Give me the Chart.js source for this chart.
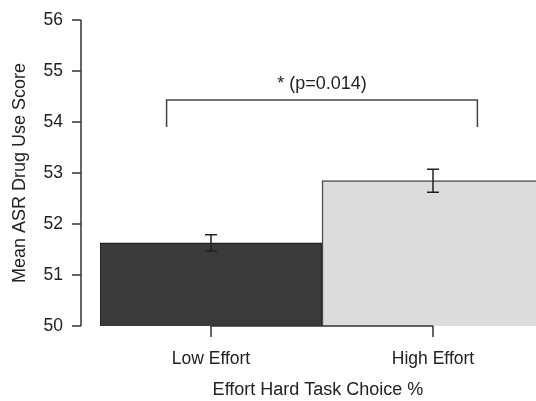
<!DOCTYPE html>
<html>
<head>
<meta charset="utf-8">
<script src="https://cdn.jsdelivr.net/npm/chart.js@4/dist/chart.umd.min.js"></script>
<style>
  html, body { margin: 0; padding: 0; background: #fff; overflow: hidden; }
</style>
</head>
<body>
<canvas id="chart-effort" width="536" height="401"></canvas>
<script>
// data
const groups = ["Low Effort", "High Effort"];
const groupPos = [1, 2];
const means = [51.63, 52.85];
const errors = [0.16, 0.225];
const yTicks = [50, 51, 52, 53, 54, 55, 56];
const pLabel = "* (p=0.014)";
// significance bracket, in data units
const bracketTop = 54.43;
const bracketFoot = 53.9;
const bracketFrom = 0.8;
const bracketTo = 2.2;

Chart.defaults.font.family = '"Liberation Sans", Arial, sans-serif';
Chart.defaults.color = '#222';

const overlay = {
  id: 'overlay',
  afterDatasetsDraw(chart) {
    const { ctx, chartArea, scales: { x, y } } = chart;
    ctx.save();
    ctx.strokeStyle = '#333';
    ctx.lineWidth = 1.5;

    // y axis line + ticks (offset from the plot like base R)
    const ax = chartArea.left - 19;
    ctx.beginPath();
    ctx.moveTo(ax, y.getPixelForValue(yTicks[0]));
    ctx.lineTo(ax, y.getPixelForValue(yTicks[yTicks.length - 1]));
    yTicks.forEach(v => {
      const py = y.getPixelForValue(v);
      ctx.moveTo(ax, py);
      ctx.lineTo(ax - 9, py);
    });
    ctx.stroke();

    // x axis line from first to last group + ticks
    const by = y.getPixelForValue(yTicks[0]);
    ctx.beginPath();
    ctx.moveTo(x.getPixelForValue(groupPos[0]), by);
    ctx.lineTo(x.getPixelForValue(groupPos[groupPos.length - 1]), by);
    groupPos.forEach(g => {
      const px = x.getPixelForValue(g);
      ctx.moveTo(px, by);
      ctx.lineTo(px, by + 11);
    });
    ctx.stroke();

    // error bars
    ctx.strokeStyle = '#222';
    ctx.beginPath();
    means.forEach((m, i) => {
      const px = x.getPixelForValue(groupPos[i]);
      const top = y.getPixelForValue(m + errors[i]);
      const bot = y.getPixelForValue(m - errors[i]);
      ctx.moveTo(px, top);
      ctx.lineTo(px, bot);
      ctx.moveTo(px - 6, top);
      ctx.lineTo(px + 6, top);
      ctx.moveTo(px - 6, bot);
      ctx.lineTo(px + 6, bot);
    });
    ctx.stroke();

    // bracket
    const bl = x.getPixelForValue(bracketFrom);
    const br = x.getPixelForValue(bracketTo);
    const bt = y.getPixelForValue(bracketTop);
    const bf = y.getPixelForValue(bracketFoot);
    ctx.strokeStyle = '#444';
    ctx.beginPath();
    ctx.moveTo(bl, bf);
    ctx.lineTo(bl, bt);
    ctx.lineTo(br, bt);
    ctx.lineTo(br, bf);
    ctx.stroke();

    ctx.fillStyle = '#222';
    ctx.font = '18px "Liberation Sans", Arial, sans-serif';
    ctx.textAlign = 'center';
    ctx.textBaseline = 'middle';
    ctx.fillText(pLabel, (bl + br) / 2, bt - 16);
    ctx.restore();
  }
};

new Chart(document.getElementById('chart-effort'), {
  type: 'bar',
  data: {
    datasets: [
      {
        data: means.map((m, i) => ({ x: groupPos[i], y: m })),
        backgroundColor: ['#3a3a3a', '#dcdcdc'],
        borderColor: ['#222', '#4a4a4a'],
        borderWidth: 1.5,
        borderSkipped: false,
        categoryPercentage: 1,
        barPercentage: 1,
      },
    ],
  },
  options: {
    responsive: false,
    animation: false,
    layout: { padding: { top: 20, right: 0, left: 0, bottom: 0 } },
    plugins: {
      legend: { display: false },
      tooltip: { enabled: false },
    },
    scales: {
      x: {
        type: 'linear',
        offset: false,
        min: 0.5,
        max: 2.464,
        afterFit(scale) { scale.height = 75; },
        afterBuildTicks(scale) { scale.ticks = groupPos.map(v => ({ value: v })); },
        grid: { display: false, drawTicks: true, tickLength: 23 },
        border: { display: false },
        ticks: {
          padding: 0,
          font: { size: 17.5 },
          callback: v => groups[groupPos.indexOf(v)],
        },
        title: {
          display: true,
          text: 'Effort Hard Task Choice %',
          font: { size: 18 },
          padding: { top: 0, bottom: 0 },
        },
      },
      y: {
        min: 50,
        max: 56,
        afterFit(scale) { scale.width = 100; },
        afterBuildTicks(scale) { scale.ticks = yTicks.map(v => ({ value: v })); },
        grid: { display: false, drawTicks: true, tickLength: 37 },
        border: { display: false },
        ticks: { padding: 0, font: { size: 17.5 } },
        title: {
          display: true,
          text: 'Mean ASR Drug Use Score',
          font: { size: 18 },
          padding: { top: 9, bottom: 0 },
        },
      },
    },
  },
  plugins: [overlay],
});
</script>
</body>
</html>
